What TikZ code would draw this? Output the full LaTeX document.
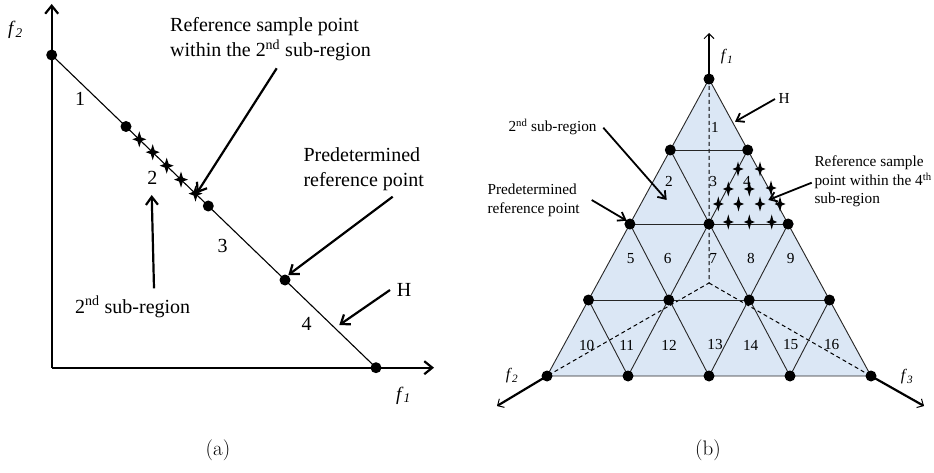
\documentclass[tikz,border=0pt]{standalone}
\usepackage{fontspec}
\newfontfamily\tnr{Liberation Serif}
\usetikzlibrary{arrows.meta}
\definecolor{regionblue}{RGB}{219,231,245}
\tikzset{
  dot/.style={circle,fill=black,inner sep=0pt,minimum size=11pt},
  axisa/.style={line width=2.2pt,-{Straight Barb[length=8pt,width=13pt]}},
  axisb/.style={line width=2.2pt,-{Straight Barb[length=5pt,width=10pt,line width=1pt]}},
  annoa/.style={line width=2.2pt,-{Straight Barb[length=8pt,width=12pt]}},
  annob/.style={line width=1.8pt,-{Straight Barb[length=7pt,width=10pt]}},
  hline/.style={line width=1.1pt},
  grid/.style={line width=0.9pt,draw=black!85},
  dashline/.style={line width=1pt,dashed,dash pattern=on 4pt off 3pt},
  lbla/.style={font=\tnr\fontsize{20}{24}\selectfont,inner sep=0pt},
  lblb/.style={font=\tnr\fontsize{15.3}{18}\selectfont,inner sep=0pt},
  numa/.style={font=\tnr\fontsize{20}{24}\selectfont,inner sep=0pt},
  numb/.style={font=\tnr\fontsize{15.3}{18}\selectfont,inner sep=0pt},
  fa/.style={font=\tnr\fontsize{19}{22}\selectfont,inner sep=0pt},
  fb/.style={font=\tnr\fontsize{16}{19}\selectfont,inner sep=0pt},
  capt/.style={font=\fontsize{21}{25}\selectfont,inner sep=0pt},
  fstara/.pic={\fill (0,-8)--(1.9,-1.9)--(7,0)--(1.9,1.9)--(0,8)--(-1.9,1.9)--(-7,0)--(-1.9,-1.9)--cycle;},
  fstarb/.pic={\fill (0,-7.5)--(1.6,-1.6)--(5.5,0)--(1.6,1.6)--(0,7.5)--(-1.6,1.6)--(-5.5,0)--(-1.6,-1.6)--cycle;}
}
\begin{document}
\begin{tikzpicture}[x=1pt,y=-1pt]
\useasboundingbox (0,0) rectangle (934,473);
% ---------------- panel (a) ----------------
\coordinate (O) at (51.7,367.7);
\coordinate (ytip) at (51.7,4);
\coordinate (xtip) at (434,367.7);
\draw[axisa] (O) -- (ytip);
\draw[axisa] (O) -- (xtip);
\node[dot] (a0) at (51.7,55) {};
\node[dot] (a1) at (126,126.5) {};
\node[dot] (a2) at (208.3,206) {};
\node[dot] (a3) at (285,280) {};
\node[dot] (a4) at (376,367.7) {};
\draw[hline] (a0.center) -- (a4.center);
\foreach \p in {(139.3,139.3),(152.7,152.2),(166.7,165.7),(181,179.6),(195.5,193.6)}
  \pic at \p {fstara};
\node[fa,anchor=base west] (f2a) at (8,35) {\textit{f}\textsubscript{\textit{2}}};
\node[fa,anchor=base west] (f1a) at (396,400) {\textit{f}\textsubscript{\textit{1}}};
\node[numa] (n1a) at (80,99) {1};
\node[numa] (n2a) at (152.3,178) {2};
\node[numa] (n3a) at (222.7,245.5) {3};
\node[numa] (n4a) at (306.7,323.5) {4};
\node[lbla,anchor=base west] (rsa1) at (170,32) {Reference sample point};
\node[lbla,anchor=base west] (rsa2) at (170,57) {within the 2\textsuperscript{nd} sub-region};
\node[lbla,anchor=base west] (pda1) at (303.3,161.5) {Predetermined};
\node[lbla,anchor=base west] (pda2) at (303.3,186.5) {reference point};
\node[lbla,anchor=base west] (Ha) at (396.7,296) {H};
\node[lbla,anchor=base west] (sra) at (75,313.3) {2\textsuperscript{nd} sub-region};
\coordinate (rsas) at (276.7,68.3);  \coordinate (rsae) at (196.7,193.3);
\coordinate (pdas) at (392.7,196.7); \coordinate (pdae) at (288.3,275);
\coordinate (Has) at (390,290);      \coordinate (Hae) at (339.3,325);
\coordinate (sras) at (154,288.3);   \coordinate (srae) at (151.7,195);
\draw[annoa] (rsas) -- (rsae);
\draw[annoa] (pdas) -- (pdae);
\draw[annoa] (Has) -- (Hae);
\draw[annoa] (sras) -- (srae);
\node[capt] (capa) at (218,450.5) {(a)};
% ---------------- panel (b) ----------------
\coordinate (T) at (709,79);
\coordinate (L) at (547,376);
\coordinate (R) at (871,376);
\coordinate (C) at (709,283);
\fill[regionblue] (T) -- (L) -- (R) -- cycle;
% grid points
\coordinate (p10) at (670.3,150); \coordinate (p11) at (747.7,150);
\coordinate (p20) at (629.9,224); \coordinate (p21) at (709,224); \coordinate (p22) at (788.1,224);
\coordinate (p30) at (588.5,300); \coordinate (p31) at (668.8,300); \coordinate (p32) at (749.2,300); \coordinate (p33) at (829.5,300);
\coordinate (p40) at (547,376); \coordinate (p41) at (628,376); \coordinate (p42) at (709,376); \coordinate (p43) at (790,376); \coordinate (p44) at (871,376);
\draw[dashline] (T) -- (C) -- (L);
\draw[dashline] (C) -- (R);
\draw[grid] (T) -- (L) -- (R) -- cycle;
\draw[grid] (p10) -- (p11);
\draw[grid] (p20) -- (p22);
\draw[grid] (p30) -- (p33);
\draw[grid] (p11) -- (p41);
\draw[grid] (p22) -- (p42);
\draw[grid] (p33) -- (p43);
\draw[grid] (p10) -- (p43);
\draw[grid] (p20) -- (p42);
\draw[grid] (p30) -- (p41);
% axes
\coordinate (f1tip) at (709,33);
\coordinate (f2tip) at (497,406);
\coordinate (f3tip) at (924,406);
\draw[axisb] (T) -- (f1tip);
\draw[axisb] (L) -- (f2tip);
\draw[axisb] (R) -- (f3tip);
% stars
\foreach \p in {(738,169),(760,169),(728.3,189),(749.3,189),(771,188),(718.3,204),(738.5,204),(760,204),(780,204),(728.3,222),(749.3,222),(771.7,222)}
  \pic at \p {fstarb};
% dots
\node[dot] (b00) at (T) {};
\node[dot] (b10) at (p10) {}; \node[dot] (b11) at (p11) {};
\node[dot] (b20) at (p20) {}; \node[dot] (b21) at (p21) {}; \node[dot] (b22) at (p22) {};
\node[dot] (b30) at (p30) {}; \node[dot] (b31) at (p31) {}; \node[dot] (b32) at (p32) {}; \node[dot] (b33) at (p33) {};
\node[dot] (b40) at (p40) {}; \node[dot] (b41) at (p41) {}; \node[dot] (b42) at (p42) {}; \node[dot] (b43) at (p43) {}; \node[dot] (b44) at (p44) {};
% numbers
\node[numb] (r1) at (715,127.7) {1};
\node[numb] (r2) at (669,181.7) {2};
\node[numb] (r3) at (713.3,181.7) {3};
\node[numb] (r4) at (747,181) {4};
\node[numb] (r5) at (630.7,258.3) {5};
\node[numb] (r6) at (667.7,258.3) {6};
\node[numb] (r7) at (713.3,258.3) {7};
\node[numb] (r8) at (751,258.3) {8};
\node[numb] (r9) at (790.7,258.3) {9};
\node[numb] (r10) at (586.7,345) {10};
\node[numb] (r11) at (626.7,345) {11};
\node[numb] (r12) at (669,345) {12};
\node[numb] (r13) at (715,345) {13};
\node[numb] (r14) at (750.7,345) {14};
\node[numb] (r15) at (790.7,345) {15};
\node[numb] (r16) at (831.7,345) {16};
% labels
\node[fb] (f1b) at (727,57) {\textit{f}\textsubscript{\textit{1}}};
\node[fb] (f2b) at (512,376) {\textit{f}\textsubscript{\textit{2}}};
\node[fb] (f3b) at (907,377) {\textit{f}\textsubscript{\textit{3}}};
\node[lblb,anchor=base west] (Hb) at (778.3,103.3) {H};
\node[lblb,anchor=base west] (srb) at (508.3,131.7) {2\textsuperscript{nd} sub-region};
\node[lblb,anchor=base west] (pdb1) at (487.3,195) {Predetermined};
\node[lblb,anchor=base west] (pdb2) at (487.3,213.3) {reference point};
\node[lblb,anchor=base west] (rsb1) at (814.3,166.7) {Reference sample};
\node[lblb,anchor=base west] (rsb2) at (814.3,185.5) {point within the 4\textsuperscript{th}};
\node[lblb,anchor=base west] (rsb3) at (814.3,203.3) {sub-region};
\coordinate (Hbs) at (775,99);      \coordinate (Hbe) at (735,121.7);
\coordinate (srbs) at (603.3,127.7); \coordinate (srbe) at (666.7,200);
\coordinate (pdbs) at (591.7,200);  \coordinate (pdbe) at (626.7,220.7);
\coordinate (rsbs) at (811.7,182.7); \coordinate (rsbe) at (768.3,200);
\draw[annob] (Hbs) -- (Hbe);
\draw[annob] (srbs) -- (srbe);
\draw[annob] (pdbs) -- (pdbe);
\draw[annob] (rsbs) -- (rsbe);
\node[capt] (capb) at (708,450.5) {(b)};
\end{tikzpicture}
\end{document}
